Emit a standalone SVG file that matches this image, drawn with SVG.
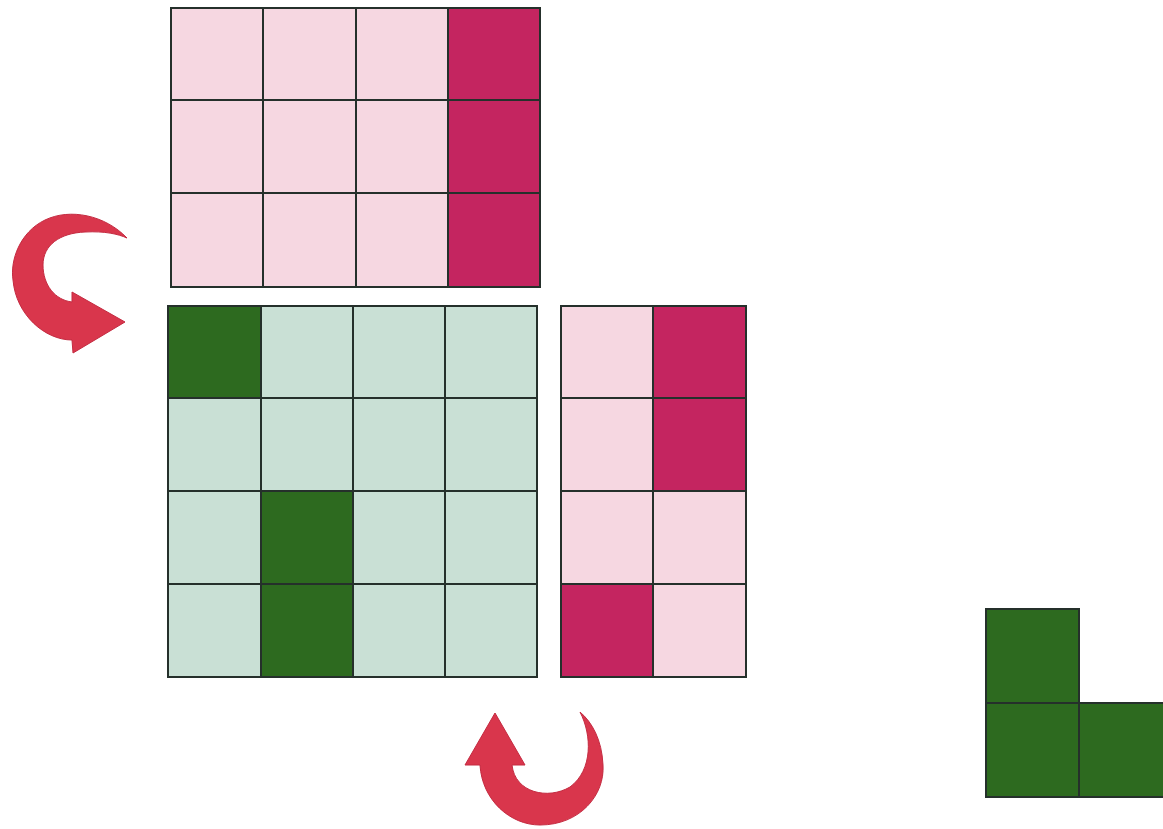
<svg xmlns="http://www.w3.org/2000/svg" width="1163" height="829" viewBox="0 0 1163 829">
<style>
rect{stroke:#25302b;stroke-width:2}
.lp{fill:#f6d7e1}
.dp{fill:#c42560}
.lg{fill:#c9e0d5}
.dg{fill:#2d6a1f}
.arr{fill:#d9364c;stroke:#c42a40;stroke-width:1}
</style>
<rect x="0" y="0" width="1163" height="829" fill="#ffffff" style="stroke:none"/>
<g id="top-grid">
<rect class="lp" x="171" y="8" width="92" height="92"/>
<rect class="lp" x="263" y="8" width="93" height="92"/>
<rect class="lp" x="356" y="8" width="92" height="92"/>
<rect class="dp" x="448" y="8" width="92" height="92"/>
<rect class="lp" x="171" y="100" width="92" height="93"/>
<rect class="lp" x="263" y="100" width="93" height="93"/>
<rect class="lp" x="356" y="100" width="92" height="93"/>
<rect class="dp" x="448" y="100" width="92" height="93"/>
<rect class="lp" x="171" y="193" width="92" height="94"/>
<rect class="lp" x="263" y="193" width="93" height="94"/>
<rect class="lp" x="356" y="193" width="92" height="94"/>
<rect class="dp" x="448" y="193" width="92" height="94"/>
</g>
<g id="green-grid">
<rect class="dg" x="168" y="306" width="93" height="92"/>
<rect class="lg" x="261" y="306" width="92" height="92"/>
<rect class="lg" x="353" y="306" width="92" height="92"/>
<rect class="lg" x="445" y="306" width="92" height="92"/>
<rect class="lg" x="168" y="398" width="93" height="93"/>
<rect class="lg" x="261" y="398" width="92" height="93"/>
<rect class="lg" x="353" y="398" width="92" height="93"/>
<rect class="lg" x="445" y="398" width="92" height="93"/>
<rect class="lg" x="168" y="491" width="93" height="93"/>
<rect class="dg" x="261" y="491" width="92" height="93"/>
<rect class="lg" x="353" y="491" width="92" height="93"/>
<rect class="lg" x="445" y="491" width="92" height="93"/>
<rect class="lg" x="168" y="584" width="93" height="93"/>
<rect class="dg" x="261" y="584" width="92" height="93"/>
<rect class="lg" x="353" y="584" width="92" height="93"/>
<rect class="lg" x="445" y="584" width="92" height="93"/>
</g>
<g id="right-grid">
<rect class="lp" x="561" y="306" width="92" height="92"/>
<rect class="dp" x="653" y="306" width="93" height="92"/>
<rect class="lp" x="561" y="398" width="92" height="93"/>
<rect class="dp" x="653" y="398" width="93" height="93"/>
<rect class="lp" x="561" y="491" width="92" height="93"/>
<rect class="lp" x="653" y="491" width="93" height="93"/>
<rect class="dp" x="561" y="584" width="92" height="93"/>
<rect class="lp" x="653" y="584" width="93" height="93"/>
</g>
<g id="l-shape">
<rect class="dg" x="986" y="609" width="93" height="94"/>
<rect class="dg" x="986" y="703" width="93" height="94"/>
<rect class="dg" x="1079" y="703" width="93" height="94"/>
</g>
<g id="connectors">
<path class="arr" d="M127,238 C105,215 70,208 45,220 C20,232 10,260 13,280 C16,315 45,340 72,340 L73,353 L125,322 L72,292 L72,302 C55,300 43,285 43,265 C43,245 60,233 85,232 C105,231 118,234 127,238 Z"/>
<path class="arr" d="M495,713 L465,765 L480,765 C482,800 510,825 540,825 C580,825 605,795 603,765 C602,740 592,722 580,712 C592,735 593,770 570,787 C548,800 515,793 512,765 L525,765 Z"/>
</g>
</svg>
